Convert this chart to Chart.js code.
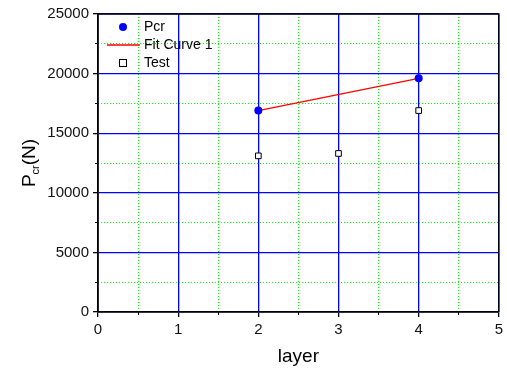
<!DOCTYPE html>
<html>
<head>
<meta charset="utf-8">
<script src="https://cdn.jsdelivr.net/npm/chart.js@4/dist/chart.umd.min.js"></script>
<style>
  html, body { margin: 0; padding: 0; background: #fff; }
  #wrap { width: 507px; height: 370px; }
</style>
</head>
<body>
<div id="wrap"><canvas id="chart" width="507" height="370"></canvas></div>
<script>
// data
const pcrLayers = [2, 4];
const pcrValues = [16900, 19600];
const fitLayers = [2, 4];
const fitValues = [16900, 19600];
const testLayers = [2, 3, 4];
const testValues = [13100, 13300, 16900];

const xTicks = [0, 1, 2, 3, 4, 5];
const yTicks = [0, 5000, 10000, 15000, 20000, 25000];
const xMinorStep = 0.5;
const yMinorStep = 2500;

const FONT = "Arial, 'Liberation Sans', sans-serif";

const toPoints = (xs, ys) => xs.map((x, i) => ({ x: x, y: ys[i] }));

// keep only the minor positions on the helper axes
const dropMajor = list => s => {
  s.ticks = s.ticks.filter(t => !list.includes(t.value));
};

// black frame on top and right of plot area
const framePlugin = {
  id: 'frame',
  afterDatasetsDraw(chart) {
    const { ctx, chartArea: a } = chart;
    ctx.save();
    ctx.strokeStyle = '#000';
    ctx.lineWidth = 1.4;
    ctx.beginPath();
    ctx.moveTo(a.left, a.top);
    ctx.lineTo(a.right, a.top);
    ctx.lineTo(a.right, a.bottom);
    ctx.stroke();
    ctx.restore();
  }
};

// legend drawn inside the plot, top-left
const insideLegend = {
  id: 'insideLegend',
  afterDraw(chart) {
    const { ctx, chartArea: a } = chart;
    const sets = chart.data.datasets;
    ctx.save();
    ctx.font = '14px ' + FONT;
    ctx.textBaseline = 'middle';
    sets.forEach((ds, i) => {
      const y = a.top + 13 + i * 18;
      const cx = a.left + 25;
      if (ds.showLine) {
        ctx.strokeStyle = ds.borderColor;
        ctx.lineWidth = 1.3;
        ctx.beginPath();
        ctx.moveTo(a.left + 9, y);
        ctx.lineTo(a.left + 42, y);
        ctx.stroke();
      } else if (ds.pointStyle === 'rect') {
        ctx.fillStyle = '#fff';
        ctx.strokeStyle = '#000';
        ctx.lineWidth = 1;
        ctx.fillRect(cx - 3.5, y - 3.5, 7, 7);
        ctx.strokeRect(cx - 3.5, y - 3.5, 7, 7);
      } else {
        ctx.fillStyle = ds.backgroundColor;
        ctx.beginPath();
        ctx.arc(cx, y, 4, 0, Math.PI * 2);
        ctx.fill();
      }
      ctx.fillStyle = '#000';
      ctx.fillText(ds.label, a.left + 46, y);
    });
    ctx.restore();
  }
};

// y-axis title with subscript
const yTitle = {
  id: 'yTitle',
  afterDraw(chart) {
    const { ctx, chartArea: a } = chart;
    const midY = (a.top + a.bottom) / 2;
    ctx.save();
    ctx.translate(35, midY);
    ctx.rotate(-Math.PI / 2);
    ctx.fillStyle = '#000';
    ctx.textBaseline = 'alphabetic';
    ctx.textAlign = 'left';
    const big = '19px ' + FONT;
    const small = '11px ' + FONT;
    ctx.font = big;
    const wP = ctx.measureText('P').width;
    ctx.font = small;
    const wS = ctx.measureText('cr').width;
    ctx.font = big;
    const wN = ctx.measureText('(N)').width;
    let x = -(wP + wS + wN) / 2;
    ctx.fillText('P', x, 0);
    x += wP;
    ctx.font = small;
    ctx.fillText('cr', x, 4);
    x += wS;
    ctx.font = big;
    ctx.fillText('(N)', x, 0);
    ctx.restore();
  }
};

const minorGrid = {
  color: '#00ff00',
  lineWidth: 1,
  borderDash: [1, 2],
  tickColor: '#000',
  tickLength: 3
};

new Chart(document.getElementById('chart'), {
  type: 'scatter',
  data: {
    datasets: [
      {
        label: 'Pcr',
        data: toPoints(pcrLayers, pcrValues),
        xAxisID: 'x',
        yAxisID: 'y',
        backgroundColor: '#0000ff',
        borderColor: '#0000ff',
        pointStyle: 'circle',
        pointRadius: 4,
        borderWidth: 0
      },
      {
        label: 'Fit Curve 1',
        data: toPoints(fitLayers, fitValues),
        xAxisID: 'x',
        yAxisID: 'y',
        borderColor: '#ff0000',
        backgroundColor: '#ff0000',
        showLine: true,
        borderWidth: 1.2,
        pointRadius: 0
      },
      {
        label: 'Test',
        data: toPoints(testLayers, testValues),
        xAxisID: 'x',
        yAxisID: 'y',
        backgroundColor: '#ffffff',
        borderColor: '#000000',
        pointStyle: 'rect',
        pointRadius: 4,
        borderWidth: 1
      }
    ]
  },
  options: {
    responsive: false,
    animation: false,
    layout: { padding: { top: 14, right: 4, left: 0, bottom: 0 } },
    plugins: {
      legend: { display: false },
      tooltip: { enabled: false }
    },
    scales: {
      xMinor: {
        type: 'linear',
        position: 'bottom',
        weight: 0,
        min: 0,
        max: 5,
        afterFit: s => { s.height = 0; },
        afterBuildTicks: dropMajor(xTicks),
        ticks: { stepSize: xMinorStep, autoSkip: false, display: false },
        grid: minorGrid,
        border: { display: false, dash: [1, 2] }
      },
      yMinor: {
        type: 'linear',
        position: 'left',
        weight: 0,
        min: 0,
        max: 25000,
        afterFit: s => { s.width = 0; },
        afterBuildTicks: dropMajor(yTicks),
        ticks: { stepSize: yMinorStep, autoSkip: false, display: false },
        grid: minorGrid,
        border: { display: false, dash: [1, 2] }
      },
      x: {
        type: 'linear',
        position: 'bottom',
        weight: 1,
        min: 0,
        max: 5,
        afterFit: s => { s.height = 58; },
        afterBuildTicks: s => { s.ticks = xTicks.map(v => ({ value: v })); },
        ticks: {
          autoSkip: false,
          maxRotation: 0,
          padding: 4,
          color: '#111',
          font: { family: FONT, size: 15 },
          callback: v => String(v)
        },
        grid: {
          color: '#0000ff',
          lineWidth: 1.3,
          tickColor: '#000',
          tickLength: 5
        },
        border: { color: '#000', width: 1.8 },
        title: {
          display: true,
          text: 'layer',
          color: '#000',
          font: { family: FONT, size: 19 },
          padding: { top: 0, bottom: 2 }
        }
      },
      y: {
        type: 'linear',
        position: 'left',
        weight: 1,
        min: 0,
        max: 25000,
        afterFit: s => { s.width = 98; },
        afterBuildTicks: s => { s.ticks = yTicks.map(v => ({ value: v })); },
        ticks: {
          autoSkip: false,
          padding: 4,
          color: '#111',
          font: { family: FONT, size: 15 },
          callback: v => String(v)
        },
        grid: {
          color: '#0000ff',
          lineWidth: 1.3,
          tickColor: '#000',
          tickLength: 5
        },
        border: { color: '#000', width: 1.8 }
      }
    }
  },
  plugins: [framePlugin, insideLegend, yTitle]
});
</script>
</body>
</html>
